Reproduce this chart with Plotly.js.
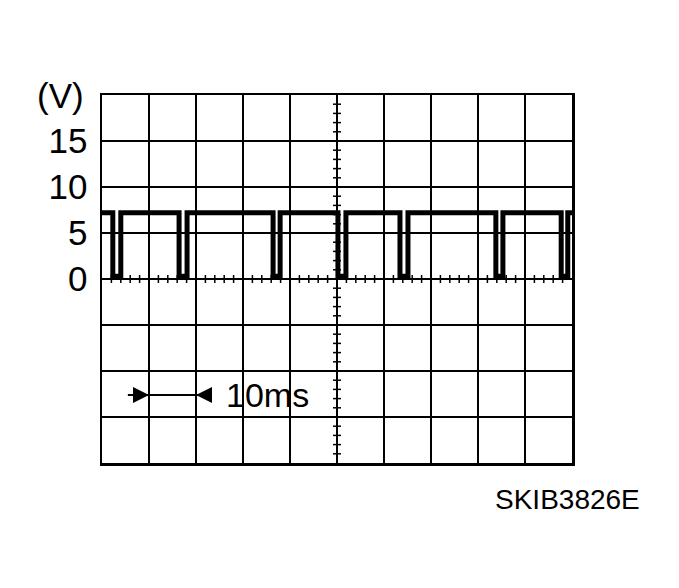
<!DOCTYPE html>
<html><head><meta charset="utf-8">
<script src="https://cdn.plot.ly/plotly-3.0.1.min.js"></script>
<style>html,body{margin:0;padding:0;background:#fff;}#chart{width:679px;height:588px;}</style>
</head><body><div id="chart"></div>
<script>
// Data (time in ms, voltage in V)
const pulseStart = [2.3, 16.4, 36.4, 50.2, 63.4, 83.8, 97.7];
const pulseEnd   = [4.0, 18.1, 37.9, 51.9, 65.1, 85.3, 99.1];
const highLevel = 7.2;
const lowLevel = 0.3;
const tStart = 0, tEnd = 100;
const yTickVals = [0, 5, 10, 15];
const yTickText = ["0", "5", "10", "15"];
const unitLabel = "(V)";
const scaleLabel = "10ms";
const figId = "SKIB3826E";

const xs = [tStart], ys = [highLevel];
for (let i = 0; i < pulseStart.length; i++) {
  xs.push(pulseStart[i], pulseStart[i], pulseEnd[i], pulseEnd[i]);
  ys.push(highLevel, lowLevel, lowLevel, highLevel);
}
xs.push(tEnd); ys.push(highLevel);

const shapes = [];
for (let t = 0; t <= 100; t += 2) {
  if (t % 10 === 0) continue;
  shapes.push({type:'line', xref:'x', yref:'y', ysizemode:'pixel', yanchor:0, x0:t, x1:t, y0:-4, y1:4, line:{color:'#000', width:1.5}});
}
for (let v = -20; v <= 20; v += 1) {
  if (v % 5 === 0) continue;
  shapes.push({type:'line', xref:'x', yref:'y', xsizemode:'pixel', xanchor:50, x0:-4, x1:4, y0:v, y1:v, line:{color:'#000', width:1.5}});
}
shapes.push({type:'line', xref:'x', yref:'y', x0:5.5, x1:22.3, y0:-12.6, y1:-12.6, line:{color:'#000', width:2}});

const font = "Liberation Sans, Arial, sans-serif";

const data = [{
  x: xs, y: ys, type:'scatter', mode:'lines',
  line:{color:'#000', width:5}, hoverinfo:'skip'
}];

const layout = {
  width:679, height:588,
  margin:{l:102, r:107, t:95, b:125},
  paper_bgcolor:'#fff', plot_bgcolor:'#fff',
  showlegend:false,
  xaxis:{range:[0,100], dtick:10, tick0:0, showgrid:true, gridcolor:'#000', gridwidth:2.5,
         showline:true, mirror:true, linecolor:'#000', linewidth:2.5, showticklabels:false,
         ticks:'', zeroline:false, fixedrange:true},
  yaxis:{range:[-20,20], tickvals:[-20,-15,-10,-5].concat(yTickVals).concat([20]),
         ticktext:['','','',''].concat(yTickText).concat(['']),
         showgrid:true, gridcolor:'#000', gridwidth:2.5,
         showline:true, mirror:true, linecolor:'#000', linewidth:2.5, ticks:'', zeroline:false,
         tickfont:{family:font, size:35, color:'#000'}, ticklabelstandoff:5, fixedrange:true},
  shapes: shapes,
  annotations:[
    {xref:'paper', yref:'y', x:-0.035, y:20, text:unitLabel, showarrow:false, xanchor:'right', yanchor:'middle',
     font:{family:font, size:35, color:'#000'}},
    {xref:'x', yref:'y', x:10, y:-12.6, ax:5.5, ay:-12.6, axref:'x', ayref:'y', text:'', showarrow:true,
     arrowhead:2, arrowsize:1.6, arrowwidth:2, arrowcolor:'#000'},
    {xref:'x', yref:'y', x:20, y:-12.6, ax:22.3, ay:-12.6, axref:'x', ayref:'y', text:'', showarrow:true,
     arrowhead:2, arrowsize:1.6, arrowwidth:2, arrowcolor:'#000'},
    {xref:'x', yref:'y', x:26.0, y:-12.6, text:scaleLabel, showarrow:false, xanchor:'left', yanchor:'middle',
     font:{family:font, size:34, color:'#000'}},
    {xref:'paper', yref:'paper', x:1.148, y:-0.1, text:figId, showarrow:false, xanchor:'right', yanchor:'middle',
     font:{family:font, size:28, color:'#000'}}
  ]
};
Plotly.newPlot('chart', data, layout, {displayModeBar:false, staticPlot:true});
</script></body></html>
